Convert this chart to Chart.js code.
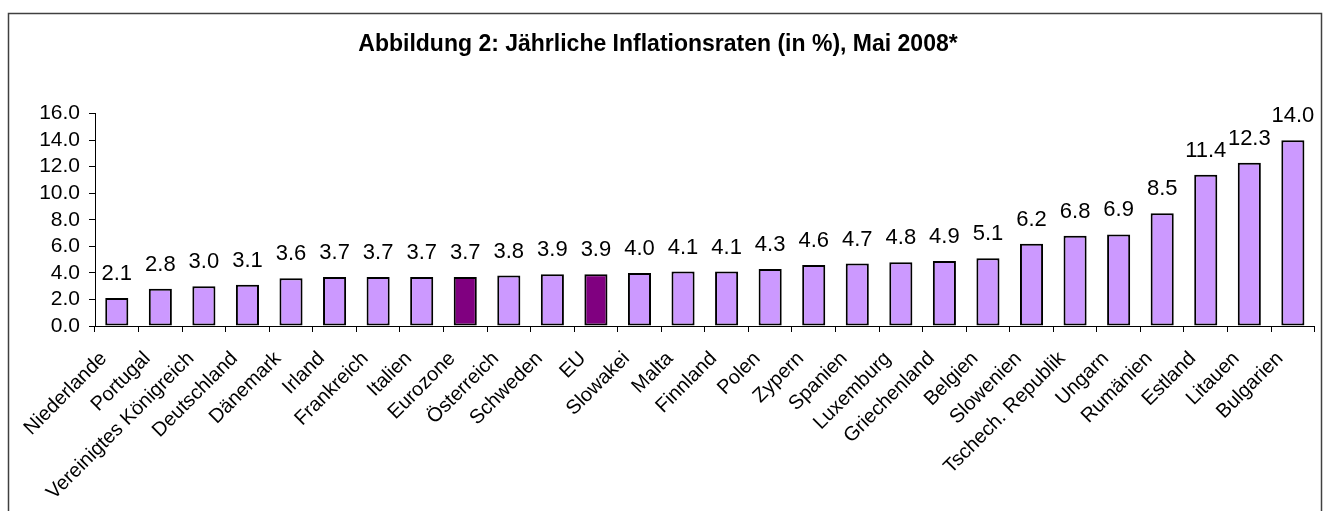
<!DOCTYPE html>
<html>
<head>
<meta charset="utf-8">
<script src="https://cdn.jsdelivr.net/npm/chart.js@4"></script>
<style>
  body { margin: 0; background: #fff; }
</style>
</head>
<body>
<canvas id="myChart" width="1325" height="511"></canvas>
<script>
'use strict';

// data
let countries = ['Niederlande', 'Portugal', 'Vereinigtes Königreich', 'Deutschland', 'Dänemark', 'Irland',
  'Frankreich', 'Italien', 'Eurozone', 'Österreich', 'Schweden', 'EU', 'Slowakei', 'Malta', 'Finnland',
  'Polen', 'Zypern', 'Spanien', 'Luxemburg', 'Griechenland', 'Belgien', 'Slowenien', 'Tschech. Republik',
  'Ungarn', 'Rumänien', 'Estland', 'Litauen', 'Bulgarien'];
let rates = [2.1, 2.8, 3.0, 3.1, 3.6, 3.7, 3.7, 3.7, 3.7, 3.8, 3.9, 3.9, 4.0, 4.1, 4.1,
  4.3, 4.6, 4.7, 4.8, 4.9, 5.1, 6.2, 6.8, 6.9, 8.5, 11.4, 12.3, 14.0];
let highlighted = ['Eurozone', 'EU'];
let yTicks = [0, 2, 4, 6, 8, 10, 12, 14, 16];

let fontFamily = '"Liberation Sans", Arial, sans-serif';
let ctx = document.getElementById('myChart').getContext('2d');

let barColors = countries.map(c => highlighted.includes(c) ? '#800080' : '#CC99FF');

// white background + outer frame
const framePlugin = {
  id: 'frame',
  beforeDraw(chart) {
    let c = chart.ctx;
    c.save();
    c.fillStyle = '#fff';
    c.fillRect(0, 0, chart.width, chart.height);
    c.strokeStyle = '#404040';
    c.lineWidth = 1.5;
    c.strokeRect(8.5, 13.5, 1313, 600);
    c.restore();
  }
};

// value labels above bars
const barLabels = {
  id: 'barLabels',
  afterDatasetsDraw(chart) {
    let c = chart.ctx;
    let meta = chart.getDatasetMeta(0);
    c.save();
    c.font = '22px ' + fontFamily;
    c.fillStyle = '#000';
    c.textAlign = 'center';
    c.textBaseline = 'alphabetic';
    meta.data.forEach((bar, i) => {
      c.fillText(rates[i].toFixed(1), bar.x, bar.y - 18);
    });
    c.restore();
  }
};

let myChartObj = {
  type: 'bar',
  data: {
    labels: countries,
    datasets: [{
      label: 'Inflationsrate',
      data: rates,
      backgroundColor: barColors,
      borderColor: '#000',
      borderWidth: 2,
      borderSkipped: false,
      categoryPercentage: 1,
      barPercentage: 0.53
    }]
  },
  options: {
    responsive: false,
    animation: false,
    layout: {
      padding: { left: 0, right: 9, top: 0, bottom: 0 }
    },
    scales: {
      x: {
        afterFit(scale) { scale.height = 185; },
        border: { display: true, color: '#000', width: 1 },
        grid: { display: true, drawOnChartArea: false, drawTicks: true, tickLength: 6, color: '#000', offset: true },
        ticks: {
          autoSkip: false,
          maxRotation: 45,
          minRotation: 45,
          padding: 15,
          labelOffset: -13,
          color: '#000',
          font: { family: fontFamily, size: 20 }
        }
      },
      y: {
        min: 0,
        max: 16,
        afterFit(scale) { scale.width = 95; },
        afterBuildTicks(scale) { scale.ticks = yTicks.map(v => ({ value: v })); },
        border: { display: true, color: '#000', width: 1 },
        grid: { display: true, drawOnChartArea: false, drawTicks: true, tickLength: 6, color: '#000' },
        ticks: {
          autoSkip: false,
          padding: 9,
          color: '#000',
          font: { family: fontFamily, size: 21 },
          callback: v => v.toFixed(1)
        }
      }
    },
    plugins: {
      legend: { display: false },
      tooltip: { enabled: false },
      title: {
        display: true,
        text: 'Abbildung 2: Jährliche Inflationsraten (in %), Mai 2008*',
        color: '#000',
        font: { family: fontFamily, size: 23, weight: 'bold', lineHeight: 1.2 },
        padding: { top: 31, bottom: 55 }
      }
    }
  },
  plugins: [framePlugin, barLabels]
};

const myChart = new Chart(ctx, myChartObj);
</script>
</body>
</html>
